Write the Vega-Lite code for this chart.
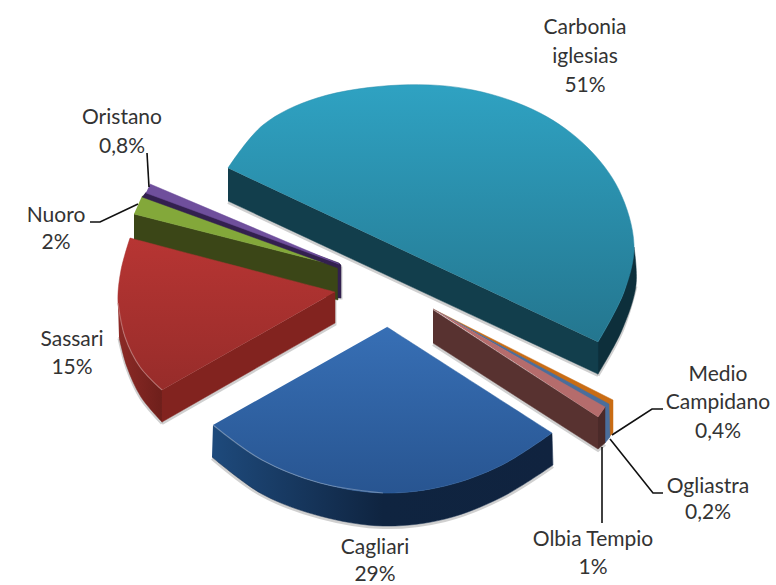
{
"$schema":"https://vega.github.io/schema/vega-lite/v6.json",
"width":776,"height":585,
"autosize":{"type":"fit","contains":"padding"},
"padding":0,
"background":"white",
"view":{"stroke":null},
"datasets":{
"outline":[
{"p":"carb_top","i":0,"x":228,"y":168},{"p":"carb_top","i":1,"x":263,"y":125},{"p":"carb_top","i":2,"x":317,"y":98},{"p":"carb_top","i":3,"x":400,"y":85},{"p":"carb_top","i":4,"x":473,"y":90},{"p":"carb_top","i":5,"x":540,"y":113},{"p":"carb_top","i":6,"x":587,"y":147},{"p":"carb_top","i":7,"x":619,"y":190},{"p":"carb_top","i":8,"x":634,"y":245},{"p":"carb_top","i":9,"x":624,"y":292},{"p":"carb_top","i":10,"x":598,"y":342},
{"p":"carb_cut","i":0,"x":228,"y":168},{"p":"carb_cut","i":1,"x":598,"y":342},{"p":"carb_cut","i":2,"x":598,"y":374},{"p":"carb_cut","i":3,"x":228,"y":201},
{"p":"carb_rim","i":0,"x":598,"y":342},{"p":"carb_rim","i":1,"x":624,"y":292},{"p":"carb_rim","i":2,"x":634,"y":247},{"p":"carb_rim","i":3,"x":634,"y":247},{"p":"carb_rim","i":4,"x":636,"y":285},{"p":"carb_rim","i":5,"x":622,"y":330},{"p":"carb_rim","i":6,"x":598,"y":374},
{"p":"cag_top","i":0,"x":387,"y":327},{"p":"cag_top","i":1,"x":552,"y":433},{"p":"cag_top","i":2,"x":552,"y":433},{"p":"cag_top","i":3,"x":502,"y":465},{"p":"cag_top","i":4,"x":445,"y":486},{"p":"cag_top","i":5,"x":383,"y":493},{"p":"cag_top","i":6,"x":320,"y":483},{"p":"cag_top","i":7,"x":262,"y":460},{"p":"cag_top","i":8,"x":213,"y":425},
{"p":"cag_rim","i":0,"x":213,"y":425},{"p":"cag_rim","i":1,"x":262,"y":460},{"p":"cag_rim","i":2,"x":320,"y":483},{"p":"cag_rim","i":3,"x":383,"y":493},{"p":"cag_rim","i":4,"x":445,"y":486},{"p":"cag_rim","i":5,"x":502,"y":465},{"p":"cag_rim","i":6,"x":552,"y":433},{"p":"cag_rim","i":7,"x":552,"y":433},{"p":"cag_rim","i":8,"x":553,"y":465},{"p":"cag_rim","i":9,"x":553,"y":465},{"p":"cag_rim","i":10,"x":502,"y":497},{"p":"cag_rim","i":11,"x":445,"y":519},{"p":"cag_rim","i":12,"x":383,"y":526},{"p":"cag_rim","i":13,"x":320,"y":516},{"p":"cag_rim","i":14,"x":262,"y":494},{"p":"cag_rim","i":15,"x":212,"y":457},
{"p":"sas_top","i":0,"x":335,"y":292},{"p":"sas_top","i":1,"x":130,"y":238},{"p":"sas_top","i":2,"x":130,"y":238},{"p":"sas_top","i":3,"x":121,"y":270},{"p":"sas_top","i":4,"x":118,"y":303},{"p":"sas_top","i":5,"x":125,"y":337},{"p":"sas_top","i":6,"x":140,"y":367},{"p":"sas_top","i":7,"x":162,"y":390},
{"p":"sas_cut","i":0,"x":162,"y":390},{"p":"sas_cut","i":1,"x":335,"y":292},{"p":"sas_cut","i":2,"x":335,"y":323},{"p":"sas_cut","i":3,"x":162,"y":422},
{"p":"sas_rim","i":0,"x":118,"y":303},{"p":"sas_rim","i":1,"x":125,"y":337},{"p":"sas_rim","i":2,"x":140,"y":367},{"p":"sas_rim","i":3,"x":162,"y":390},{"p":"sas_rim","i":4,"x":162,"y":390},{"p":"sas_rim","i":5,"x":162,"y":422},{"p":"sas_rim","i":6,"x":162,"y":422},{"p":"sas_rim","i":7,"x":141,"y":397},{"p":"sas_rim","i":8,"x":127,"y":367},{"p":"sas_rim","i":9,"x":119,"y":337},
{"p":"nuo_cut","i":0,"x":134,"y":214},{"p":"nuo_cut","i":1,"x":338,"y":266},{"p":"nuo_cut","i":2,"x":338,"y":300},{"p":"nuo_cut","i":3,"x":134,"y":247},
{"p":"nuo_top","i":0,"x":142,"y":196},{"p":"nuo_top","i":1,"x":338,"y":266},{"p":"nuo_top","i":2,"x":134,"y":214},
{"p":"ori_cut","i":0,"x":146,"y":192},{"p":"ori_cut","i":1,"x":339,"y":263},{"p":"ori_cut","i":2,"x":341,"y":265},{"p":"ori_cut","i":3,"x":341,"y":298},{"p":"ori_cut","i":4,"x":338,"y":298},{"p":"ori_cut","i":5,"x":338,"y":268},{"p":"ori_cut","i":6,"x":142,"y":197},
{"p":"ori_top","i":0,"x":150,"y":184},{"p":"ori_top","i":1,"x":339,"y":264},{"p":"ori_top","i":2,"x":146,"y":193},
{"p":"med_rim","i":0,"x":433,"y":309},{"p":"med_rim","i":1,"x":613,"y":400},{"p":"med_rim","i":2,"x":613,"y":433},{"p":"med_rim","i":3,"x":609,"y":437},{"p":"med_rim","i":4,"x":609,"y":405},
{"p":"ogl_rim","i":0,"x":433,"y":309},{"p":"ogl_rim","i":1,"x":609,"y":404},{"p":"ogl_rim","i":2,"x":610,"y":437},{"p":"ogl_rim","i":3,"x":605,"y":443},{"p":"ogl_rim","i":4,"x":605,"y":408},
{"p":"olb_cut","i":0,"x":433,"y":310},{"p":"olb_cut","i":1,"x":598,"y":417},{"p":"olb_cut","i":2,"x":598,"y":449},{"p":"olb_cut","i":3,"x":433,"y":343},
{"p":"olb_rim","i":0,"x":598,"y":417},{"p":"olb_rim","i":1,"x":605,"y":407},{"p":"olb_rim","i":2,"x":605,"y":443},{"p":"olb_rim","i":3,"x":598,"y":449},
{"p":"olb_top","i":0,"x":433,"y":309},{"p":"olb_top","i":1,"x":605,"y":407},{"p":"olb_top","i":2,"x":598,"y":417}
],
"shadows":[
{"p":"carb_bottom","i":0,"x":228,"y":201},{"p":"carb_bottom","i":1,"x":598,"y":374},
{"p":"olb_bottom","i":0,"x":433,"y":343},{"p":"olb_bottom","i":1,"x":598,"y":449},{"p":"olb_bottom","i":2,"x":605,"y":443},
{"p":"sas_bottom","i":0,"x":162,"y":422},{"p":"sas_bottom","i":1,"x":335,"y":323},{"p":"sas_bottom","i":2,"x":335,"y":293},
{"p":"nuo_bottom","i":0,"x":341,"y":265},{"p":"nuo_bottom","i":1,"x":341,"y":298}
],
"curvedShadows":[
{"p":"cag_bottom","i":0,"x":212,"y":457},{"p":"cag_bottom","i":1,"x":262,"y":494},{"p":"cag_bottom","i":2,"x":320,"y":516},{"p":"cag_bottom","i":3,"x":383,"y":526},{"p":"cag_bottom","i":4,"x":445,"y":519},{"p":"cag_bottom","i":5,"x":502,"y":497},{"p":"cag_bottom","i":6,"x":553,"y":465},
{"p":"carb_bottom","i":0,"x":598,"y":374},{"p":"carb_bottom","i":1,"x":622,"y":330},{"p":"carb_bottom","i":2,"x":636,"y":285},
{"p":"sas_bottom","i":0,"x":119,"y":337},{"p":"sas_bottom","i":1,"x":127,"y":367},{"p":"sas_bottom","i":2,"x":141,"y":397},{"p":"sas_bottom","i":3,"x":162,"y":422}
],
"rimlights":[
{"p":"cag","i":0,"x":213,"y":425},{"p":"cag","i":1,"x":262,"y":460},{"p":"cag","i":2,"x":320,"y":483},{"p":"cag","i":3,"x":383,"y":493},
{"p":"sas","i":0,"x":118,"y":303},{"p":"sas","i":1,"x":125,"y":337},{"p":"sas","i":2,"x":140,"y":367},{"p":"sas","i":3,"x":162,"y":390}
],
"leaders":[
{"r":"Oristano","i":0,"x":147,"y":153},{"r":"Oristano","i":1,"x":149,"y":187},
{"r":"Nuoro","i":0,"x":90,"y":222},{"r":"Nuoro","i":1,"x":100,"y":222},{"r":"Nuoro","i":2,"x":138,"y":204},
{"r":"Medio Campidano","i":0,"x":663,"y":409},{"r":"Medio Campidano","i":1,"x":652,"y":409},{"r":"Medio Campidano","i":2,"x":612,"y":435},
{"r":"Ogliastra","i":0,"x":663,"y":493},{"r":"Ogliastra","i":1,"x":653,"y":493},{"r":"Ogliastra","i":2,"x":610,"y":439},
{"r":"Olbia Tempio","i":0,"x":602,"y":523},{"r":"Olbia Tempio","i":1,"x":602,"y":447}
],
"labels":[
{"t":"Carbonia","x":585,"y":28},{"t":"iglesias","x":585,"y":57},{"t":"51%","x":585,"y":86},
{"t":"Oristano","x":122,"y":118},{"t":"0,8%","x":122,"y":147},
{"t":"Nuoro","x":56,"y":216},{"t":"2%","x":56,"y":243},
{"t":"Sassari","x":72,"y":340},{"t":"15%","x":72,"y":368},
{"t":"Cagliari","x":375,"y":548},{"t":"29%","x":375,"y":575},
{"t":"Olbia Tempio","x":593,"y":540},{"t":"1%","x":593,"y":568},
{"t":"Ogliastra","x":708,"y":487},{"t":"0,2%","x":708,"y":513},
{"t":"Medio","x":718,"y":375},{"t":"Campidano","x":718,"y":403},{"t":"0,4%","x":718,"y":432}
]
},
"encoding":{
"x":{"field":"x","type":"quantitative","scale":{"domain":[0,776]},"axis":null},
"y":{"field":"y","type":"quantitative","scale":{"domain":[585,0]},"axis":null}
},
"layer":[
{"data":{"name":"shadows"},"mark":{"type":"line","stroke":"#777777","strokeWidth":3,"strokeOpacity":0.35,"yOffset":1.5},"encoding":{"detail":{"field":"p"},"order":{"field":"i","type":"quantitative"}}},
{"data":{"name":"curvedShadows"},"mark":{"type":"line","interpolate":"catmull-rom","stroke":"#777777","strokeWidth":3,"strokeOpacity":0.35,"yOffset":1.5},"encoding":{"detail":{"field":"p"},"order":{"field":"i","type":"quantitative"}}},
{"data":{"name":"outline"},"transform":[{"filter":"datum.p==='nuo_cut'"}],"mark":{"type":"line","fill":"#3B4617","stroke":"#3B4617","strokeWidth":0.5},"encoding":{"order":{"field":"i","type":"quantitative"}}},
{"data":{"name":"outline"},"transform":[{"filter":"datum.p==='nuo_top'"}],"mark":{"type":"line","fill":"#83A83A","stroke":"#83A83A","strokeWidth":0.5},"encoding":{"order":{"field":"i","type":"quantitative"}}},
{"data":{"name":"outline"},"transform":[{"filter":"datum.p==='ori_cut'"}],"mark":{"type":"line","fill":"#33204F","stroke":"#33204F","strokeWidth":0.5},"encoding":{"order":{"field":"i","type":"quantitative"}}},
{"data":{"name":"outline"},"transform":[{"filter":"datum.p==='ori_top'"}],"mark":{"type":"line","fill":"#6F4F9C","stroke":"#6F4F9C","strokeWidth":0.5},"encoding":{"order":{"field":"i","type":"quantitative"}}},
{"data":{"name":"outline"},"transform":[{"filter":"datum.p==='sas_rim'"}],"mark":{"type":"line","interpolate":"catmull-rom","fill":{"gradient":"linear","x1":0,"y1":0,"x2":1,"y2":0,"stops":[{"offset":0,"color":"#8C2A26"},{"offset":1,"color":"#6E1F1B"}]},"stroke":"#7A2420","strokeWidth":0.5},"encoding":{"order":{"field":"i","type":"quantitative"}}},
{"data":{"name":"outline"},"transform":[{"filter":"datum.p==='sas_cut'"}],"mark":{"type":"line","fill":"#82231F","stroke":"#82231F","strokeWidth":0.5},"encoding":{"order":{"field":"i","type":"quantitative"}}},
{"data":{"name":"outline"},"transform":[{"filter":"datum.p==='sas_top'"}],"mark":{"type":"line","interpolate":"catmull-rom","fill":{"gradient":"linear","x1":0,"y1":0,"x2":0,"y2":1,"stops":[{"offset":0,"color":"#B73533"},{"offset":1,"color":"#972C2A"}]},"stroke":"#A83230","strokeWidth":0.5},"encoding":{"order":{"field":"i","type":"quantitative"}}},
{"data":{"name":"outline"},"transform":[{"filter":"datum.p==='cag_rim'"}],"mark":{"type":"line","interpolate":"catmull-rom","fill":{"gradient":"linear","x1":0,"y1":0,"x2":1,"y2":0,"stops":[{"offset":0,"color":"#1E4A7C"},{"offset":0.5,"color":"#0F2440"},{"offset":1,"color":"#10233F"}]},"stroke":"#142C4C","strokeWidth":0.5},"encoding":{"order":{"field":"i","type":"quantitative"}}},
{"data":{"name":"outline"},"transform":[{"filter":"datum.p==='cag_top'"}],"mark":{"type":"line","interpolate":"catmull-rom","fill":{"gradient":"linear","x1":0,"y1":0,"x2":0,"y2":1,"stops":[{"offset":0,"color":"#376FB5"},{"offset":1,"color":"#285591"}]},"stroke":"#2F62A3","strokeWidth":0.5},"encoding":{"order":{"field":"i","type":"quantitative"}}},
{"data":{"name":"rimlights"},"mark":{"type":"line","interpolate":"catmull-rom","stroke":"#E8E8E8","strokeWidth":1.2,"strokeOpacity":0.3},"encoding":{"detail":{"field":"p"},"order":{"field":"i","type":"quantitative"}}},
{"data":{"name":"outline"},"transform":[{"filter":"datum.p==='carb_rim'"}],"mark":{"type":"line","interpolate":"catmull-rom","fill":"#0D2F3B","stroke":"#0D2F3B","strokeWidth":0.5},"encoding":{"order":{"field":"i","type":"quantitative"}}},
{"data":{"name":"outline"},"transform":[{"filter":"datum.p==='carb_cut'"}],"mark":{"type":"line","fill":"#123E4C","stroke":"#123E4C","strokeWidth":0.5},"encoding":{"order":{"field":"i","type":"quantitative"}}},
{"data":{"name":"outline"},"transform":[{"filter":"datum.p==='carb_top'"}],"mark":{"type":"line","interpolate":"catmull-rom","fill":{"gradient":"linear","x1":0,"y1":0,"x2":0,"y2":1,"stops":[{"offset":0,"color":"#2FA2C2"},{"offset":1,"color":"#24768F"}]},"stroke":"#2A8CAA","strokeWidth":0.5},"encoding":{"order":{"field":"i","type":"quantitative"}}},
{"data":{"name":"outline"},"transform":[{"filter":"datum.p==='med_rim'"}],"mark":{"type":"line","fill":"#C96C14","stroke":"#C96C14","strokeWidth":0.5},"encoding":{"order":{"field":"i","type":"quantitative"}}},
{"data":{"name":"outline"},"transform":[{"filter":"datum.p==='ogl_rim'"}],"mark":{"type":"line","fill":"#4A6E9C","stroke":"#4A6E9C","strokeWidth":0.5},"encoding":{"order":{"field":"i","type":"quantitative"}}},
{"data":{"name":"outline"},"transform":[{"filter":"datum.p==='olb_cut'"}],"mark":{"type":"line","fill":"#583230","stroke":"#583230","strokeWidth":0.5},"encoding":{"order":{"field":"i","type":"quantitative"}}},
{"data":{"name":"outline"},"transform":[{"filter":"datum.p==='olb_rim'"}],"mark":{"type":"line","fill":"#4B2A29","stroke":"#4B2A29","strokeWidth":0.5},"encoding":{"order":{"field":"i","type":"quantitative"}}},
{"data":{"name":"outline"},"transform":[{"filter":"datum.p==='olb_top'"}],"mark":{"type":"line","fill":"#B56C6C","stroke":"#B56C6C","strokeWidth":0.5},"encoding":{"order":{"field":"i","type":"quantitative"}}},
{"data":{"name":"leaders"},"mark":{"type":"line","stroke":"#111111","strokeWidth":1.6},"encoding":{"detail":{"field":"r"},"order":{"field":"i","type":"quantitative"}}},
{"data":{"name":"labels"},"mark":{"type":"text","font":"Lato","fontSize":21,"fill":"#333333","align":"center","baseline":"middle"},"encoding":{"text":{"field":"t"}}}
],
"config":{"style":{"cell":{"stroke":null}}}
}
